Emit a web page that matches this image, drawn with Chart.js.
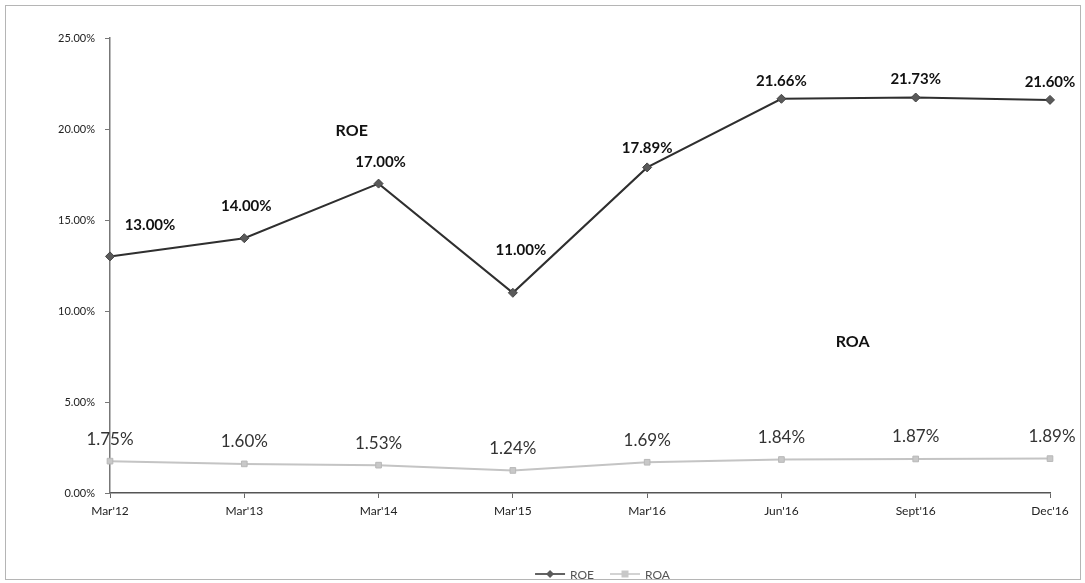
<!DOCTYPE html>
<html>
<head>
<meta charset="utf-8">
<script src="https://cdn.jsdelivr.net/npm/chart.js@4.4.1/dist/chart.umd.min.js"></script>
<style>
  html, body { margin: 0; padding: 0; background: #fff; }
  #wrap { position: relative; width: 1085px; height: 583px; }
  #frame { position: absolute; left: 5px; top: 5px; right: 4px; bottom: 3px; border: 1px solid #b5b5b5; pointer-events: none; }
  canvas { display: block; }
</style>
</head>
<body>
<div id="wrap">
  <canvas id="RatioChart" width="1085" height="583"></canvas>
  <div id="frame"></div>
</div>
<script>
var periods = ["Mar'12", "Mar'13", "Mar'14", "Mar'15", "Mar'16", "Jun'16", "Sept'16", "Dec'16"];
var roeValues = [13.00, 14.00, 17.00, 11.00, 17.89, 21.66, 21.73, 21.60];
var roaValues = [1.75, 1.60, 1.53, 1.24, 1.69, 1.84, 1.87, 1.89];
var yTicks = [0, 5, 10, 15, 20, 25];

var FONT = "Lato, 'Open Sans', sans-serif";
var ROE_COLOR = '#2f2f2f';
var ROA_COLOR = '#c4c4c4';

// value labels next to each point
var valueLabels = {
    id: 'valueLabels',
    afterDatasetsDraw(chart, args, opts) {
        var ctx = chart.ctx;
        ctx.save();
        ctx.textAlign = 'center';
        ctx.textBaseline = 'middle';
        chart.data.datasets.forEach(function (ds, i) {
            var meta = chart.getDatasetMeta(i);
            var cfg = opts[ds.label];
            ctx.font = cfg.font;
            ctx.fillStyle = cfg.color;
            meta.data.forEach(function (pt, j) {
                var off = cfg.offsets[j];
                ctx.fillText(ds.data[j].toFixed(2) + '%', pt.x + off[0], pt.y + off[1]);
            });
        });
        ctx.restore();
    }
};

// series names written inside the plot
var seriesTitles = {
    id: 'seriesTitles',
    afterDraw(chart, args, opts) {
        var ctx = chart.ctx, xs = chart.scales.x, ys = chart.scales.y;
        ctx.save();
        ctx.font = 'bold 16px ' + FONT;
        ctx.fillStyle = '#111';
        ctx.textAlign = 'center';
        ctx.textBaseline = 'middle';
        opts.items.forEach(function (t) {
            ctx.fillText(t.text, xs.getPixelForValue(t.x), ys.getPixelForValue(t.y));
        });
        ctx.restore();
    }
};

// bottom legend: short line with the series marker, then the name
var lineLegend = {
    id: 'lineLegend',
    afterDraw(chart, args, opts) {
        var ctx = chart.ctx;
        var sw = 30, gapText = 5, gapItem = 16;
        ctx.save();
        ctx.font = opts.size + 'px ' + FONT;
        ctx.textBaseline = 'middle';
        var items = chart.data.datasets.map(function (ds) {
            return { ds: ds, w: sw + gapText + ctx.measureText(ds.label).width };
        });
        var total = items.reduce(function (s, it) { return s + it.w; }, 0) + gapItem * (items.length - 1);
        var x = (chart.width - total) / 2 + opts.shift;
        var y = chart.height - opts.bottom;
        items.forEach(function (it) {
            var ds = it.ds;
            ctx.strokeStyle = ds.borderColor;
            ctx.lineWidth = 1.5;
            ctx.beginPath(); ctx.moveTo(x, y); ctx.lineTo(x + sw, y); ctx.stroke();
            ctx.fillStyle = ds.pointBackgroundColor;
            var cx = x + sw / 2;
            ctx.beginPath();
            if (ds.pointStyle === 'rectRot') {
                ctx.moveTo(cx, y - 4); ctx.lineTo(cx + 4, y); ctx.lineTo(cx, y + 4); ctx.lineTo(cx - 4, y);
            } else {
                ctx.rect(cx - 3.5, y - 3.5, 7, 7);
            }
            ctx.closePath(); ctx.fill();
            ctx.fillStyle = '#555';
            ctx.fillText(ds.label, x + sw + gapText, y + 1);
            x += it.w + gapItem;
        });
        ctx.restore();
    }
};

var ctx1 = document.getElementById('RatioChart').getContext('2d');
var ratioChart = new Chart(ctx1, {
    type: 'line',
    data: {
        labels: periods,
        datasets: [{
            label: 'ROE',
            data: roeValues,
            borderColor: ROE_COLOR,
            borderWidth: 2,
            pointStyle: 'rectRot',
            pointRadius: 4.5,
            pointBackgroundColor: '#5a5a5a',
            pointBorderColor: '#444',
            pointBorderWidth: 1,
            tension: 0
        }, {
            label: 'ROA',
            data: roaValues,
            borderColor: ROA_COLOR,
            borderWidth: 2,
            pointStyle: 'rect',
            pointRadius: 4,
            pointBackgroundColor: '#c8c8c8',
            pointBorderColor: '#b8b8b8',
            pointBorderWidth: 1,
            tension: 0
        }]
    },
    options: {
        responsive: false,
        animation: false,
        layout: { padding: { left: 0, top: 38, right: 35, bottom: 0 } },
        scales: {
            x: {
                offset: false,
                grid: { drawOnChartArea: false, tickLength: 5, color: '#666' },
                border: { color: '#555', width: 1.5 },
                ticks: { color: '#222', font: { family: FONT, size: 12 }, padding: 6, maxRotation: 0 },
                afterFit: function (scale) { scale.height = 90; }
            },
            y: {
                min: 0,
                max: 25,
                afterBuildTicks: function (scale) {
                    scale.ticks = yTicks.map(function (v) { return { value: v }; });
                },
                grid: { drawOnChartArea: false, tickLength: 5, color: '#777' },
                border: { color: '#777', width: 1.5 },
                ticks: {
                    color: '#222',
                    font: { family: FONT, size: 11 },
                    padding: 10,
                    callback: function (v) { return v.toFixed(2) + '%'; }
                },
                afterFit: function (scale) { scale.width = 110; }
            }
        },
        plugins: {
            legend: { display: false },
            tooltip: { enabled: false },
            lineLegend: { size: 12, bottom: 9, shift: 60 },
            valueLabels: {
                ROE: {
                    font: 'bold 15px ' + FONT,
                    color: '#111',
                    offsets: [[40, -31], [2, -32], [2, -21], [8, -43], [0, -19], [0, -18], [0, -18], [0, -18]]
                },
                ROA: {
                    font: '17px ' + FONT,
                    color: '#333',
                    offsets: [[0, -22], [0, -22], [0, -22], [0, -22], [0, -22], [0, -22], [0, -22], [2, -22]]
                }
            },
            seriesTitles: {
                items: [
                    { text: 'ROE', x: 1.8, y: 19.9 },
                    { text: 'ROA', x: 5.53, y: 8.3 }
                ]
            }
        }
    },
    plugins: [valueLabels, seriesTitles, lineLegend]
});
</script>
</body>
</html>
